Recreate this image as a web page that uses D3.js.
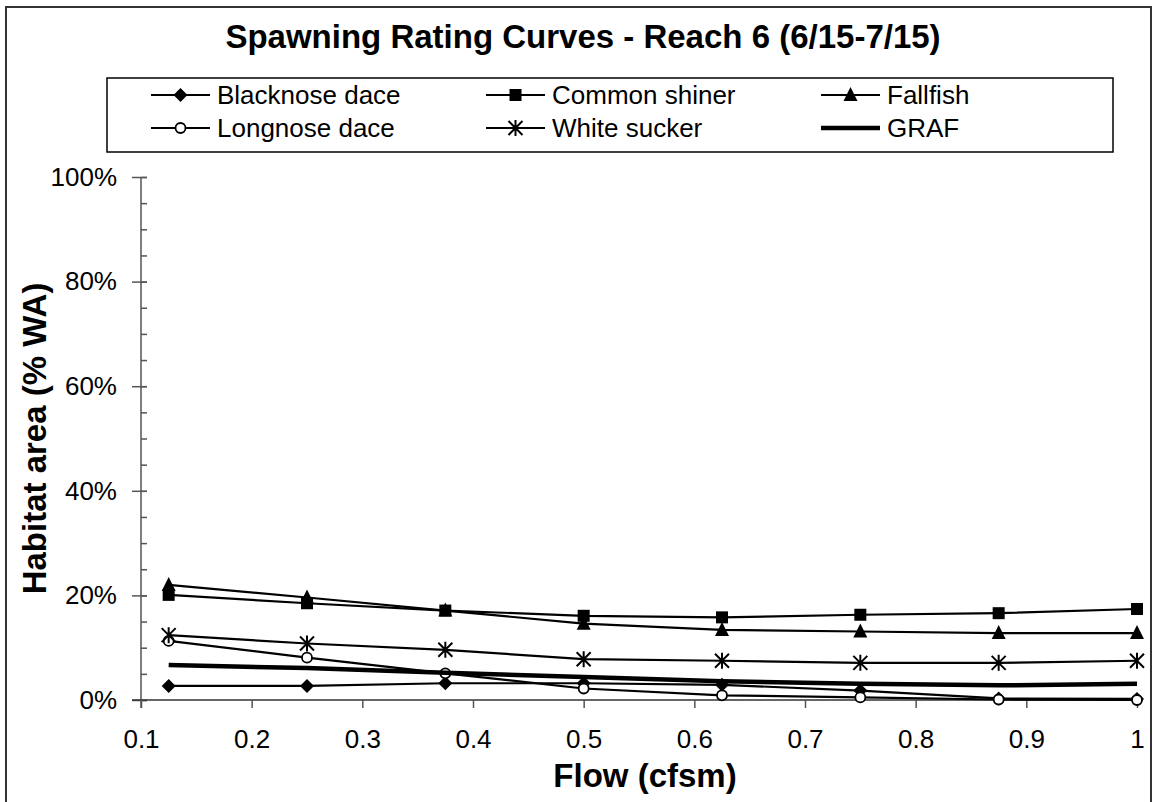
<!DOCTYPE html>
<html>
<head>
<meta charset="utf-8">
<script src="https://cdn.jsdelivr.net/npm/d3@7"></script>
<style>
  html, body { margin: 0; padding: 0; background: #fff; }
  svg { display: block; font-family: "Liberation Sans", Arial, sans-serif; }
</style>
</head>
<body>
<svg id="chart" width="1153" height="802"></svg>
<script>
// ---- data ----
const flows = [0.125, 0.25, 0.375, 0.5, 0.625, 0.75, 0.875, 1.0];
const blacknoseDace = [2.7, 2.7, 3.2, 3.2, 2.9, 1.8, 0.3, 0.2];
const commonShiner  = [20.1, 18.5, 17.1, 16.1, 15.8, 16.3, 16.6, 17.4];
const fallfish      = [22.0, 19.6, 17.1, 14.6, 13.4, 13.1, 12.8, 12.8];
const longnoseDace  = [11.3, 8.1, 5.1, 2.2, 0.9, 0.5, 0.1, 0.0];
const whiteSucker   = [12.4, 10.8, 9.6, 7.8, 7.5, 7.1, 7.1, 7.5];
const graf          = [6.7, 6.1, 5.2, 4.4, 3.6, 3.1, 2.8, 3.1];
const seriesNames = ["Blacknose dace", "Common shiner", "Fallfish", "Longnose dace", "White sucker", "GRAF"];
const seriesMarkers = ["diamond", "square", "triangle", "circle", "star", "none"];
const xTickValues = [0.1, 0.2, 0.3, 0.4, 0.5, 0.6, 0.7, 0.8, 0.9, 1.0];
const yTickValues = [0, 20, 40, 60, 80, 100];
const yMinorTickValues = d3.range(0, 101, 5);
const titleText = "Spawning Rating Curves - Reach 6 (6/15-7/15)";
const xTitle = "Flow (cfsm)";
const yTitle = "Habitat area (% WA)";

const seriesValues = [blacknoseDace, commonShiner, fallfish, longnoseDace, whiteSucker, graf];
const series = seriesNames.map((name, i) => ({
  name, marker: seriesMarkers[i],
  points: flows.map((f, j) => ({ x: f, y: seriesValues[i][j] }))
}));

// ---- layout ----
const svg = d3.select("#chart");
const FONT = "'Liberation Sans', Arial, sans-serif";
const L = 141, R = 1137, T = 177, B = 700;

const x = d3.scaleLinear().domain([0.1, 1.0]).range([L, R]);
const y = d3.scaleLinear().domain([0, 100]).range([B, T]);

// outer frame
svg.append("rect").attr("x", 6).attr("y", 7).attr("width", 1145).attr("height", 820)
  .attr("fill", "#fff").attr("stroke", "#333").attr("stroke-width", 2);

// title
svg.append("text").attr("x", 583).attr("y", 48).attr("text-anchor", "middle")
  .attr("font-family", FONT).attr("font-weight", "bold").attr("font-size", 33)
  .text(titleText);

// y axis minor ticks (inside)
const yMinor = svg.append("g").attr("transform", `translate(${L},0)`)
  .call(d3.axisLeft(y).tickValues(yMinorTickValues).tickSize(-6).tickFormat(""));
yMinor.select(".domain").remove();
yMinor.selectAll("line").attr("stroke", "#555").attr("stroke-width", 1.5);

// y axis major
const yAxis = svg.append("g").attr("transform", `translate(${L},0)`)
  .call(d3.axisLeft(y).tickValues(yTickValues).tickSizeOuter(0).tickFormat(d => d + "%"));
yAxis.select(".domain").attr("stroke", "#555").attr("stroke-width", 1.5).attr("d", `M0,${T}V${B + 8}`);
yAxis.selectAll(".tick line").attr("x1", -9).attr("x2", 6).attr("stroke", "#555").attr("stroke-width", 1.5);
yAxis.selectAll(".tick text").attr("x", -24).attr("font-family", FONT).attr("font-size", 26).attr("fill", "#000");

// x axis
const xAxis = svg.append("g").attr("transform", `translate(0,${B})`)
  .call(d3.axisBottom(x).tickValues(xTickValues).tickSize(8).tickSizeOuter(0)
    .tickFormat(d => d === 1 ? "1" : d3.format(".1f")(d)));
xAxis.select(".domain").attr("stroke", "#333").attr("stroke-width", 1.5).attr("d", `M${L - 9},0H${R}`);
xAxis.selectAll(".tick line").attr("stroke", "#555").attr("stroke-width", 1.5);
xAxis.selectAll(".tick text").attr("y", 48).attr("dy", null)
  .attr("font-family", FONT).attr("font-size", 26).attr("fill", "#000");

// axis titles
svg.append("text").attr("x", (L + R) / 2 + 6).attr("y", 787).attr("text-anchor", "middle")
  .attr("font-family", FONT).attr("font-weight", "bold").attr("font-size", 33).text(xTitle);
svg.append("text").attr("transform", `translate(46,${(T + B) / 2}) rotate(-90)`)
  .attr("text-anchor", "middle")
  .attr("font-family", FONT).attr("font-weight", "bold").attr("font-size", 33).text(yTitle);

// marker drawing
function drawMarker(g, type, cx, cy) {
  if (type === "diamond") {
    g.append("path").attr("d", `M${cx},${cy - 7}L${cx + 7},${cy}L${cx},${cy + 7}L${cx - 7},${cy}Z`).attr("fill", "#000");
  } else if (type === "square") {
    g.append("rect").attr("x", cx - 6).attr("y", cy - 6).attr("width", 12).attr("height", 12).attr("fill", "#000");
  } else if (type === "triangle") {
    g.append("path").attr("d", `M${cx},${cy - 8}L${cx + 7},${cy + 6}L${cx - 7},${cy + 6}Z`).attr("fill", "#000");
  } else if (type === "circle") {
    g.append("circle").attr("cx", cx).attr("cy", cy).attr("r", 5).attr("fill", "#fff").attr("stroke", "#000").attr("stroke-width", 1.8);
  } else if (type === "star") {
    const s = 7;
    g.append("path").attr("d", `M${cx - s},${cy - s}L${cx + s},${cy + s}M${cx + s},${cy - s}L${cx - s},${cy + s}M${cx},${cy - s - 1}L${cx},${cy + s + 1}`)
      .attr("stroke", "#000").attr("stroke-width", 2).attr("fill", "none");
  }
}

// series
const line = d3.line().x(d => x(d.x)).y(d => y(d.y));
const plot = svg.append("g");
series.forEach(s => {
  const g = plot.append("g");
  g.append("path").datum(s.points).attr("d", line).attr("fill", "none")
    .attr("stroke", "#000").attr("stroke-width", s.marker === "none" ? 4.5 : 2.2)
    .attr("stroke-linejoin", "round");
  if (s.marker !== "none") s.points.forEach(p => drawMarker(g, s.marker, x(p.x), y(p.y)));
});

// legend
const legend = svg.append("g");
legend.append("rect").attr("x", 107).attr("y", 78).attr("width", 1006).attr("height", 74)
  .attr("fill", "#fff").attr("stroke", "#000").attr("stroke-width", 1.5);
const colX = [151, 486, 821];
const rowY = [95, 128];
series.forEach((s, i) => {
  const cx = colX[i % 3], cy = rowY[Math.floor(i / 3)];
  const g = legend.append("g");
  g.append("line").attr("x1", cx).attr("x2", cx + 59).attr("y1", cy).attr("y2", cy)
    .attr("stroke", "#000").attr("stroke-width", s.marker === "none" ? 4.5 : 2.2);
  drawMarker(g, s.marker, cx + 29.5, cy);
  g.append("text").attr("x", cx + 66).attr("y", cy + 9).attr("font-family", FONT).attr("font-size", 26).text(s.name);
});
</script>
</body>
</html>
